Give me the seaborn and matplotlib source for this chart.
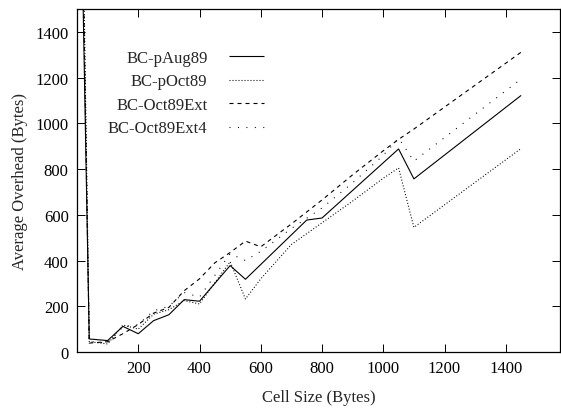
import matplotlib
matplotlib.use("Agg")
import matplotlib.pyplot as plt
import seaborn as sns
import pandas as pd

# ---- data ----
aug_x = [1, 40, 100, 150, 200, 250, 300, 350, 400, 500, 550, 750, 800, 1050, 1100, 1450]
aug_y = [2900, 57, 50, 112, 80, 137, 163, 229, 222, 378, 318, 577, 586, 888, 757, 1122]

oct_x = [1, 40, 100, 150, 200, 250, 300, 350, 400, 500, 550, 600, 700, 800, 900, 1000, 1050, 1100, 1450]
oct_y = [3500, 45, 35, 118, 100, 165, 185, 225, 210, 395, 232, 320, 470, 565, 660, 760, 805, 545, 890]

ext_x = [1, 40, 100, 150, 200, 250, 300, 350, 400, 450, 500, 550, 600, 700, 800, 900, 1000, 1050, 1100, 1450]
ext_y = [3200, 39, 45, 80, 120, 170, 195, 268, 320, 390, 435, 485, 460, 560, 665, 775, 880, 930, 975, 1311]

ext4_x = [1, 40, 100, 150, 200, 250, 300, 350, 400, 500, 550, 600, 700, 800, 900, 1000, 1050, 1100, 1450]
ext4_y = [3300, 45, 40, 110, 120, 180, 200, 260, 240, 430, 400, 440, 540, 630, 740, 860, 935, 835, 1194]

labels = ["BC-pAug89", "BC-pOct89", "BC-Oct89Ext", "BC-Oct89Ext4"]

x_ticks = [200, 400, 600, 800, 1000, 1200, 1400]
y_ticks = [0, 200, 400, 600, 800, 1000, 1200, 1400]

sns.set_style("ticks")
plt.rcParams["font.family"] = ["Liberation Serif", "DejaVu Serif"]

fig = plt.figure(figsize=(5.61, 4.14), dpi=100)
ax = fig.add_axes([77 / 561, 1 - 353 / 414, (560 - 77) / 561, (353 - 10) / 414])

lw = 0.8
styles = [
    (0, ()),
    (0, (0.9, 1.8)),
    (0, (3.6, 3.6)),
    (0, (0.9, 6.7)),
]
series = [(aug_x, aug_y), (oct_x, oct_y), (ext_x, ext_y), (ext4_x, ext4_y)]
for (xs, ys), lab, ls in zip(series, labels, styles):
    df = pd.DataFrame({"x": xs, "y": ys})
    sns.lineplot(data=df, x="x", y="y", ax=ax, color="black", lw=lw,
                 linestyle=ls, sort=False, label=lab, estimator=None)

ax.set_xlim(0, 1577)
ax.set_ylim(0, 1500)
ax.set_xticks(x_ticks)
ax.set_yticks(y_ticks)
ax.tick_params(direction="in", length=6, width=0.7, top=True, right=True,
               labelsize=12, colors="black", pad=6)
ax.tick_params(axis="x", labeltop=False)
ax.tick_params(axis="y", labelright=False)
for s in ax.spines.values():
    s.set_visible(True)
    s.set_linewidth(0.9)
    s.set_color("black")

ax.set_xlabel("Cell Size (Bytes)", fontsize=12, labelpad=9)
ax.set_ylabel("Average Overhead (Bytes)", fontsize=12, labelpad=5)

leg = ax.legend(loc="upper left", bbox_to_anchor=(0.05, 0.9), frameon=False,
                markerfirst=False, fontsize=12, handlelength=2.1,
                handletextpad=1.3, labelspacing=0.45, borderaxespad=0)

fig.savefig("out.png", dpi=100)
